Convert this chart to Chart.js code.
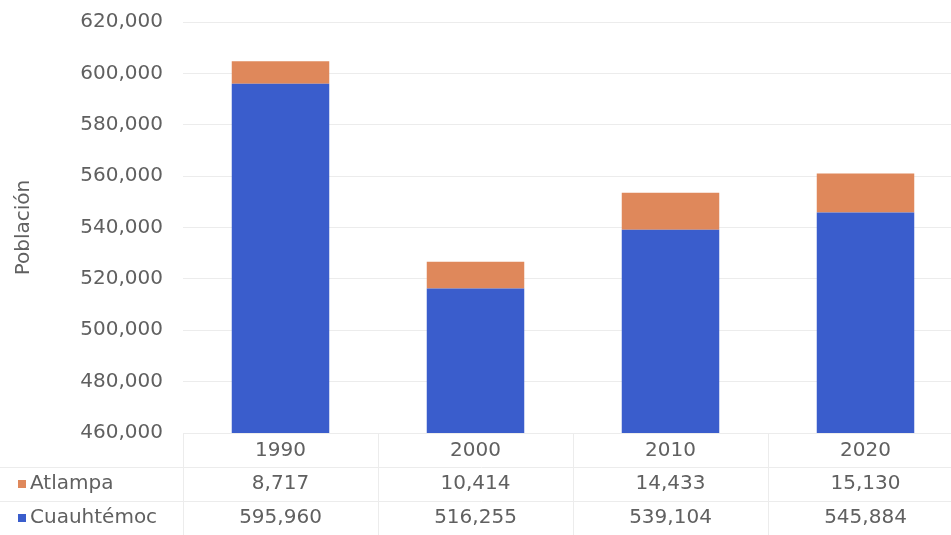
<!DOCTYPE html>
<html>
<head>
<meta charset="utf-8">
<script src="https://cdn.jsdelivr.net/npm/chart.js@4"></script>
<style>
  html, body { margin: 0; padding: 0; background: #fff; overflow: hidden; }
  #wrap { width: 963px; height: 535px; position: relative; }
</style>
</head>
<body>
<div id="wrap"><canvas id="chart"></canvas></div>
<script>
const years = ['1990', '2000', '2010', '2020'];
const atlampa = [8717, 10414, 14433, 15130];
const cuauhtemoc = [595960, 516255, 539104, 545884];
const yMin = 460000;
const yMax = 620000;
const yStep = 20000;

const textColor = '#606060';
const lineColor = '#ececec';
const blue = '#3a5dcc';
const orange = '#df885b';
const fontFamily = '"DejaVu Sans", sans-serif';

const fmt = (v) => Number(v).toLocaleString('en-US');

// data table under the x axis, columns follow the x scale
const tablePlugin = {
    id: 'dataTable',
    afterDraw(chart) {
        const ctx = chart.ctx;
        const x = chart.scales.x;
        const area = chart.chartArea;
        const rows = [
            { label: 'Atlampa', color: orange, values: atlampa },
            { label: 'Cuauhtémoc', color: blue, values: cuauhtemoc },
        ];
        const rowY = [area.bottom + 51, area.bottom + 85];
        const half = (x.getPixelForValue(1) - x.getPixelForValue(0)) / 2;

        ctx.save();
        ctx.strokeStyle = lineColor;
        ctx.lineWidth = 1;
        ctx.beginPath();
        [area.bottom + 34, area.bottom + 68].forEach((y) => {
            ctx.moveTo(0, y + 0.5);
            ctx.lineTo(chart.width, y + 0.5);
        });
        for (let i = 0; i <= years.length; i++) {
            const px = Math.round(x.getPixelForValue(i) - half) + 0.5;
            ctx.moveTo(px, area.bottom);
            ctx.lineTo(px, chart.height);
        }
        ctx.stroke();

        ctx.font = '20px ' + fontFamily;
        ctx.textBaseline = 'middle';
        rows.forEach((row, r) => {
            const y = rowY[r];
            ctx.fillStyle = row.color;
            ctx.fillRect(18, y - 4, 8, 8);
            ctx.fillStyle = textColor;
            ctx.textAlign = 'left';
            ctx.fillText(row.label, 30, y);
            ctx.textAlign = 'center';
            row.values.forEach((v, i) => {
                ctx.fillText(fmt(v), x.getPixelForValue(i), y);
            });
        });
        ctx.restore();
    },
};

new Chart(document.getElementById('chart'), {
    type: 'bar',
    data: {
        labels: years,
        datasets: [
            {
                label: 'Cuauhtémoc',
                data: cuauhtemoc,
                backgroundColor: blue,
                categoryPercentage: 1,
                barPercentage: 0.5,
            },
            {
                label: 'Atlampa',
                data: atlampa,
                backgroundColor: orange,
                categoryPercentage: 1,
                barPercentage: 0.5,
            },
        ],
    },
    options: {
        responsive: true,
        maintainAspectRatio: false,
        animation: false,
        layout: { padding: { top: 22, right: 0, left: 0, bottom: 0 } },
        plugins: {
            legend: { display: false },
            tooltip: { enabled: false },
        },
        scales: {
            x: {
                stacked: true,
                grid: { display: false },
                border: { display: false },
                ticks: {
                    color: textColor,
                    font: { family: fontFamily, size: 20 },
                    padding: -2,
                },
                afterFit: (s) => { s.height = 102; },
            },
            y: {
                stacked: true,
                min: yMin,
                max: yMax,
                grid: { color: lineColor, drawTicks: true, tickLength: 20, tickColor: 'rgba(0,0,0,0)' },
                border: { display: false },
                ticks: {
                    stepSize: yStep,
                    color: textColor,
                    font: { family: fontFamily, size: 20 },
                    padding: 0,
                    callback: (v) => fmt(v),
                },
                title: {
                    display: true,
                    text: 'Población',
                    color: textColor,
                    font: { family: fontFamily, size: 20 },
                    padding: { top: 12, bottom: 0 },
                },
                afterFit: (s) => { s.width = 183; },
            },
        },
    },
    plugins: [tablePlugin],
});
</script>
</body>
</html>
